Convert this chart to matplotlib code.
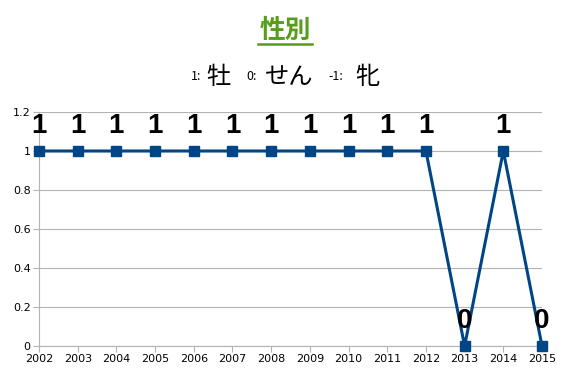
import matplotlib.pyplot as plt

plt.rcParams['font.family'] = ['Noto Sans CJK JP', 'DejaVu Sans']

years = [2002, 2003, 2004, 2005, 2006, 2007, 2008, 2009, 2010, 2011, 2012, 2013, 2014, 2015]
sex = [1, 1, 1, 1, 1, 1, 1, 1, 1, 1, 1, 0, 1, 0]
yticks = [0, 0.2, 0.4, 0.6, 0.8, 1, 1.2]
ytick_labels = ['0', '0.2', '0.4', '0.6', '0.8', '1', '1.2']

fig = plt.figure(figsize=(5.67, 3.78), dpi=100)
ax = fig.add_axes([39 / 567, 1 - 346 / 378, 503 / 567, 234 / 378])

ax.plot(years, sex, color='#004586', linewidth=2.2, marker='s', markersize=6.5,
        clip_on=False, zorder=3)

# value labels above each point
for x, v in zip(years, sex):
    ax.text(x, v + 0.13, str(v), ha='center', va='center', fontsize=20,
            fontweight='bold', color='black',
            family=['Liberation Sans', 'DejaVu Sans'], zorder=4)

ax.set_xlim(2002, 2015)
ax.set_ylim(0, 1.2)
ax.set_xticks(years)
ax.set_xticklabels([str(y) for y in years], fontsize=8, family='DejaVu Sans')
ax.set_yticks(yticks)
ax.set_yticklabels(ytick_labels, fontsize=8, family='DejaVu Sans')
ax.grid(axis='y', color='#b3b3b3', linewidth=0.8)
ax.set_axisbelow(True)
for s in ['top', 'right']:
    ax.spines[s].set_visible(False)
for s in ['left', 'bottom']:
    ax.spines[s].set_color('#b3b3b3')
ax.tick_params(axis='both', color='#b3b3b3', length=4, pad=2)

# title
fig.text(285 / 567, 1 - 30 / 378, '性別', ha='center', va='center', fontsize=18.5,
         fontweight='bold', color='#579d1c')
fig.add_artist(plt.Line2D([258 / 567, 312 / 567], [1 - 44 / 378, 1 - 44 / 378],
                          color='#579d1c', linewidth=1.8))

# subtitle legend
sub = [(191, '1:', 9), (206, '牡', 17.5), (246, '0:', 9), (265, 'せん', 17.5),
       (328, '-1:', 9), (355, '牝', 17.5)]
for x, t, fs in sub:
    fig.text(x / 567, 1 - 77 / 378, t, ha='left', va='center', fontsize=fs, color='black')

fig.savefig('out.png', dpi=100)
